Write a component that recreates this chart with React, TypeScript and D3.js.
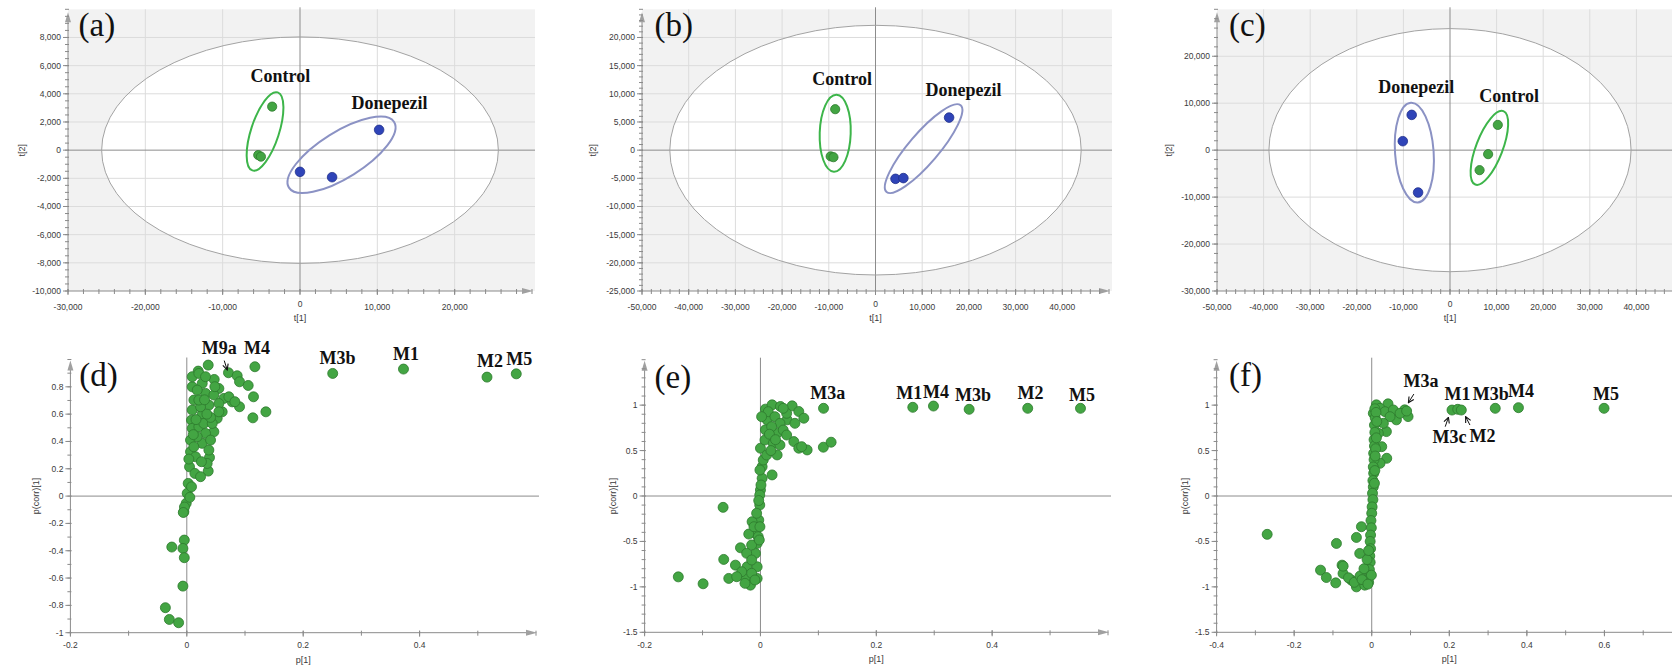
import React from 'react';
import * as d3 from 'd3';

type Pt = [number, number];

// ---------------- (a)(b)(c) score plots : t[1], t[2] ----------------
const groupNames = ['Control', 'Donepezil'];

const aControlScores: Pt[] = [[-3600, 3090], [-5400, -350], [-5050, -460]];
const aDonepezilScores: Pt[] = [[0, -1540], [4150, -1920], [10230, 1440]];
const bControlScores: Pt[] = [[-8630, 7270], [-9600, -1100], [-9000, -1250]];
const bDonepezilScores: Pt[] = [[4280, -5090], [5970, -4960], [15760, 5780]];
const cControlScores: Pt[] = [[10260, 5380], [8180, -850], [6350, -4260]];
const cDonepezilScores: Pt[] = [[-8220, 7510], [-10130, 1910], [-6850, -9020]];

// Hotelling T2 (95%) ellipse semi-axes in t[1], t[2] units
const aT2: Pt = [25650, 8040];
const bT2: Pt = [44050, 22160];
const cT2: Pt = [38860, 25890];

// centres of the group outlines (t[1], t[2]) : Control, Donepezil
const aGroupCentres: Pt[] = [[-4520, 1330], [5370, -330]];
const bGroupCentres: Pt[] = [[-8630, 3010], [10300, 270]];
const cGroupCentres: Pt[] = [[8450, 490], [-7650, -510]];

// group label anchors (t[1], t[2]) : Control, Donepezil
const aGroupLabelAt: Pt[] = [[-2535, 4860], [11585, 2900]];
const bGroupLabelAt: Pt[] = [[-7150, 11560], [18860, 9660]];
const cGroupLabelAt: Pt[] = [[12680, 10320], [-7230, 12170]];

const aXTicks = [-30000, -20000, -10000, 0, 10000, 20000];
const aYTicks = [-10000, -8000, -6000, -4000, -2000, 0, 2000, 4000, 6000, 8000];
const bXTicks = [-50000, -40000, -30000, -20000, -10000, 0, 10000, 20000, 30000, 40000];
const bYTicks = [-25000, -20000, -15000, -10000, -5000, 0, 5000, 10000, 15000, 20000];
const cXTicks = [-50000, -40000, -30000, -20000, -10000, 0, 10000, 20000, 30000, 40000];
const cYTicks = [-30000, -20000, -10000, 0, 10000, 20000];

// ---------------- (d)(e)(f) S-plots : p[1], p(corr)[1] ----------------
const dLoadings: Pt[] = [
  [0.0368, 0.959], [0.0196, 0.915], [0.0716, 0.903], [0.0866, 0.881], [0.0906, 0.837], [0.1055, 0.81],
  [0.117, 0.947], [0.1146, 0.727], [0.1359, 0.617], [0.1135, 0.573], [0.0471, 0.854], [0.0551, 0.788],
  [0.0637, 0.715], [0.078, 0.69], [0.0906, 0.654], [0.0608, 0.617], [0.0522, 0.569], [0.0465, 0.471],
  [0.039, 0.283], [0.0368, 0.183], [0.0093, 0.8], [0.0122, 0.703], [0.0093, 0.63], [0.0081, 0.556],
  [0.0093, 0.496], [0.0064, 0.41], [0.0064, 0.324], [0.0047, 0.214], [0.0024, 0.093], [0.0007, 0.02],
  [-0.001, -0.053], [-0.005, -0.115], [0.0265, 0.825], [0.0322, 0.752], [0.0379, 0.666], [0.0265, 0.6],
  [0.0207, 0.508], [0.0322, 0.459], [0.0265, 0.386], [0.015, 0.288], [0.0236, 0.654], [0.0293, 0.532],
  [0.0437, 0.532], [0.0408, 0.41], [0.0179, 0.776], [0.0207, 0.703], [0.0121, 0.361], [0.0139, 0.166],
  [0.0379, 0.337], [0.0093, 0.874], [0.0465, 0.74], [0.0551, 0.678], [0.0408, 0.576], [0.035, 0.239],
  [0.0081, 0.068], [0.0052, -0.009], [0.0207, 0.898], [0.0322, 0.874], [0.0482, 0.801], [0.0551, 0.617],
  [0.0723, 0.727], [0.0826, 0.691], [0.0236, 0.142], [0.0035, 0.271], [0.0179, 0.435], [0.0305, 0.705],
  [0.0158, 0.56], [0.0345, 0.6], [0.0112, 0.45], [0.0251, 0.252], [-0.0258, -0.373], [-0.0043, -0.322],
  [-0.0067, -0.383], [-0.0043, -0.451], [-0.0067, -0.659], [-0.0368, -0.817], [-0.03, -0.903],
  [-0.0141, -0.927], [-0.004, -0.08], [-0.006, -0.12],
  [0.2507, 0.898], [0.3723, 0.93], [0.5158, 0.871], [0.5661, 0.895],
];
const dNames = ['M9a', 'M4', 'M3b', 'M1', 'M2', 'M5'];
const dNameAt: Pt[] = [[0.0557, 1.037], [0.1206, 1.037], [0.2588, 0.964], [0.3766, 1.0], [0.5208, 0.944], [0.5711, 0.957]];
const dPointers: [Pt, Pt][] = [[[0.0643, 0.992], [0.0694, 0.924]]];

const eLoadings: Pt[] = [
  [0.0086, 0.956], [0.0201, 1.003], [0.0345, 0.985], [0.0547, 0.992], [0.0662, 0.93], [0.0749, 0.856],
  [0.046, 0.838], [0.0115, 0.838], [0.0086, 0.728], [0.0288, 0.691], [0.0576, 0.599], [0.0662, 0.526],
  [0.0806, 0.507], [0.0, 0.526], [0.0288, 0.452], [0.0029, 0.323], [0.0201, 0.232], [0.0029, 0.195],
  [0.0, 0.066], [-0.0012, 0.011], [-0.0012, -0.099], [0.0135, 0.928], [0.025, 0.873], [0.0337, 0.8],
  [0.0193, 0.763], [0.0393, 0.726], [0.0078, 0.616], [0.0221, 0.58], [0.0337, 0.561], [0.0452, 0.671],
  [0.0048, 0.396], [0.0107, 0.451], [0.0452, 0.91], [0.0595, 0.8], [0.0393, 0.965], [0.002, 0.873],
  [0.0711, 0.543], [-0.0009, 0.286], [0.0009, 0.121], [0.0155, 0.68], [0.026, 0.62], [0.018, 0.5],
  [0.1089, 0.965], [0.1086, 0.537], [0.122, 0.592],
  [-0.0645, -0.125], [-0.0029, -0.265], [-0.0144, -0.283], [-0.0086, -0.411], [-0.0202, -0.419],
  [-0.0057, -0.522], [-0.0345, -0.57], [-0.0634, -0.698], [-0.0086, -0.632], [-0.0432, -0.761],
  [-0.023, -0.779], [-0.0057, -0.779], [-0.0547, -0.907], [-0.0259, -0.907], [-0.0173, -0.981],
  [-0.0057, -0.907], [-0.099, -0.966], [-0.1418, -0.89], [-0.0066, -0.19], [-0.0112, -0.338],
  [-0.0038, -0.448], [-0.0152, -0.539], [-0.0238, -0.631], [-0.0152, -0.704], [-0.0324, -0.833],
  [-0.0152, -0.851], [-0.041, -0.888], [-0.0095, -0.924], [-0.0267, -0.961], [-0.0009, -0.338],
  [-0.002, -0.484], [-0.003, -0.05],
  [0.263, 0.976], [0.2987, 0.99], [0.3603, 0.954], [0.4614, 0.965], [0.5525, 0.965],
];
const eNames = ['M3a', 'M1', 'M4', 'M3b', 'M2', 'M5'];
const eNameAt: Pt[] = [[0.1163, 1.064], [0.2568, 1.064], [0.303, 1.082], [0.367, 1.045], [0.4663, 1.064], [0.555, 1.045]];
const ePointers: [Pt, Pt][] = [];

const fLoadings: Pt[] = [
  [0.012, 1.003], [0.042, 1.014], [0.085, 0.948], [0.0937, 0.874], [0.0636, 0.838], [0.0378, 0.709],
  [0.0387, 0.415], [0.0214, 0.965], [0.0343, 0.928], [0.0557, 0.947], [0.073, 0.91], [0.0472, 0.873],
  [0.03, 0.8], [0.017, 0.69], [0.0258, 0.543], [0.0214, 0.36], [0.0041, 0.91],
  [0.008, 0.96], [0.009, 0.86], [0.007, 0.78], [0.008, 0.7], [0.006, 0.62], [0.007, 0.55], [0.005, 0.47],
  [0.006, 0.4], [0.004, 0.32], [0.005, 0.25], [0.003, 0.17], [0.004, 0.1], [0.002, 0.03], [0.003, -0.04],
  [0.001, -0.12], [0.0, -0.19], [-0.002, -0.27], [-0.001, -0.35], [-0.003, -0.43], [-0.004, -0.5],
  [-0.003, -0.58], [-0.005, -0.66], [-0.004, -0.73], [-0.006, -0.81], [-0.005, -0.88], [-0.008, -0.95],
  [0.011, 0.92], [0.013, 0.82], [0.012, 0.64], [0.01, 0.52], [0.009, 0.44], [0.008, 0.28], [0.007, 0.14],
  [-0.0266, -0.338], [-0.0395, -0.456], [-0.091, -0.522], [-0.031, -0.632], [-0.0765, -0.761],
  [-0.132, -0.816], [-0.117, -0.897], [-0.0928, -0.956], [-0.0524, -0.926], [-0.0395, -1.0],
  [-0.018, -0.981], [-0.0009, -0.871], [-0.074, -0.853], [-0.2696, -0.422], [-0.0737, -0.772],
  [-0.06, -0.9], [-0.045, -0.95], [-0.03, -0.88], [-0.02, -0.8], [-0.012, -0.7], [-0.008, -0.6],
  [-0.025, -0.92], [-0.01, -0.97],
  [0.09, 0.935], [0.207, 0.946], [0.2218, 0.954], [0.231, 0.946], [0.3185, 0.965], [0.3783, 0.972], [0.599, 0.965],
];
const fNames = ['M3a', 'M1', 'M3b', 'M4', 'M5', 'M3c', 'M2'];
const fNameAt: Pt[] = [[0.1269, 1.203], [0.221, 1.053], [0.3066, 1.053], [0.3847, 1.09], [0.604, 1.053], [0.2006, 0.579], [0.2855, 0.594]];
const fPointers: [Pt, Pt][] = [
  [[0.1086, 1.122], [0.0946, 1.027]],
  [[0.1895, 0.763], [0.1978, 0.866]],
  [[0.2532, 0.781], [0.2421, 0.873]],
];

const dXTicks = [-0.2, 0, 0.2, 0.4];
const dYTicks = [-1, -0.8, -0.6, -0.4, -0.2, 0, 0.2, 0.4, 0.6, 0.8];
const eXTicks = [-0.2, 0, 0.2, 0.4];
const eYTicks = [-1.5, -1, -0.5, 0, 0.5, 1];
const fXTicks = [-0.4, -0.2, 0, 0.2, 0.4, 0.6];
const fYTicks = [-1.5, -1, -0.5, 0, 0.5, 1];

// ---------------- styles ----------------
const GREEN = '#43a543';
const GREEN_EDGE = '#2d7a2d';
const BLUE = '#2f44b8';
const BLUE_EDGE = '#22318c';
const GREEN_OUTLINE = '#3db54a';
const BLUE_OUTLINE = '#8b92c4';
const AXIS = '#8a8a8a';
const TICK_TEXT = '#3a3a3a';
const SANS = "'Liberation Sans', Arial, sans-serif";
const SERIF = "'Liberation Serif', 'Times New Roman', serif";

const fmtThousands = (v: number) => d3.format(',')(v).replace('\u2212', '-');
const fmtPlain = (v: number) => String(v);

function minorValues(d: number[], step: number) {
  const lo = Math.ceil(d[0] / step - 1e-9);
  const hi = Math.floor(d[1] / step + 1e-9);
  return d3.range(lo, hi + 1).map((i) => +(i * step).toFixed(6));
}

type Outline = { centre: Pt; a: number; b: number; angle: number; color: string };

type PanelCfg = {
  letter: string;
  letterAt: Pt;
  xDomain: Pt; xRange: Pt; yDomain: Pt; yRange: Pt;
  xTicks: number[]; yTicks: number[]; xMinor: number; yMinor: number;
  fmt: (v: number) => string;
  xTitle: string; yTitle: string; yTitleDx: number;
  xLabelDy: number;
  score?: {
    t2: Pt; control: Pt[]; donepezil: Pt[]; outlines: Outline[]; labelAt: Pt[];
  };
  loading?: { pts: Pt[]; names: string[]; nameAt: Pt[]; pointers: [Pt, Pt][] };
};

function Panel({ cfg, idx }: { cfg: PanelCfg; idx: number }) {
  const x = d3.scaleLinear().domain(cfg.xDomain).range(cfg.xRange);
  const y = d3.scaleLinear().domain(cfg.yDomain).range(cfg.yRange);
  const [x0, x1] = cfg.xRange;
  const [yb, yt] = cfg.yRange;
  const isScore = !!cfg.score;
  const xMinorVals = minorValues(cfg.xDomain, cfg.xMinor);
  const yMinorVals = minorValues(cfg.yDomain, cfg.yMinor);
  const arrowTop = isScore ? yt + 3 : yt + 1;
  const markerId = `arr${idx}`;

  return (
    <g>
      <defs>
        <marker id={markerId} viewBox="0 0 10 10" refX="9" refY="5" markerWidth="7" markerHeight="7" orient="auto">
          <path d="M1,1 L9,5 L1,9" fill="none" stroke="#111" strokeWidth="1.6" />
        </marker>
      </defs>
      {isScore && (
        <>
          <rect x={x0} y={yt} width={x1 - x0 + 3} height={yb - yt} fill="#f2f2f2" />
          <ellipse cx={x(0)} cy={y(0)} rx={x(cfg.score!.t2[0]) - x(0)} ry={y(0) - y(cfg.score!.t2[1])} fill="#ffffff" />
          {cfg.xTicks.filter((v) => v !== cfg.xDomain[0] && v !== 0).map((v) => (
            <line key={'gx' + v} x1={x(v)} x2={x(v)} y1={yt} y2={yb} stroke="#dcdcdc" strokeWidth={1} />
          ))}
          {cfg.yTicks.filter((v) => v !== cfg.yDomain[0] && v !== 0).map((v) => (
            <line key={'gy' + v} x1={x0} x2={x1 + 3} y1={y(v)} y2={y(v)} stroke="#dcdcdc" strokeWidth={1} />
          ))}
        </>
      )}
      {/* zero lines */}
      <line x1={x0} x2={x1 + 3} y1={y(0)} y2={y(0)} stroke="#8c8c8c" strokeWidth={1} />
      <line x1={x(0)} x2={x(0)} y1={yt - 2} y2={yb} stroke="#8c8c8c" strokeWidth={1} />
      {isScore && (
        <ellipse cx={x(0)} cy={y(0)} rx={x(cfg.score!.t2[0]) - x(0)} ry={y(0) - y(cfg.score!.t2[1])} fill="none" stroke="#a3a3a3" strokeWidth={1} />
      )}
      {/* axes */}
      <line x1={x0} x2={x1 - 6} y1={yb} y2={yb} stroke={AXIS} strokeWidth={1} />
      <path d={`M${x1 - 10},${yb - 3} L${x1 + 1},${yb} L${x1 - 10},${yb + 3} Z`} fill="#a0a0a0" />
      <line x1={x0} x2={x0} y1={yb} y2={arrowTop + 6} stroke={AXIS} strokeWidth={1} />
      <path d={`M${x0 - 3},${arrowTop + 10} L${x0},${arrowTop} L${x0 + 3},${arrowTop + 10} Z`} fill="#a0a0a0" />
      {xMinorVals.map((v) => (
        <line key={'xm' + v} x1={x(v)} x2={x(v)} y1={yb - 2} y2={yb + 3} stroke={AXIS} strokeWidth={1} />
      ))}
      {yMinorVals.map((v) => (
        <line key={'ym' + v} x1={x0 - 3} x2={x0 + 1} y1={y(v)} y2={y(v)} stroke={AXIS} strokeWidth={1} />
      ))}
      {cfg.xTicks.map((v) => (
        <g key={'xt' + v}>
          <line x1={x(v)} x2={x(v)} y1={yb - 2} y2={yb + 4} stroke={AXIS} strokeWidth={1} />
          <text x={x(v)} y={yb + cfg.xLabelDy - (isScore && v === 0 ? 3 : 0)} textAnchor="middle" fontSize={8.5} fontFamily={SANS} fill={TICK_TEXT}>
            {cfg.fmt(v)}
          </text>
        </g>
      ))}
      {cfg.yTicks.map((v) => (
        <g key={'yt' + v}>
          <line x1={x0 - 5} x2={x0 + 1} y1={y(v)} y2={y(v)} stroke={AXIS} strokeWidth={1} />
          <text x={x0 - 7} y={y(v) + 3} textAnchor="end" fontSize={8.5} fontFamily={SANS} fill={TICK_TEXT}>
            {cfg.fmt(v)}
          </text>
        </g>
      ))}
      <text x={(x0 + x1) / 2} y={yb + 30} textAnchor="middle" fontSize={9} fontFamily={SANS} fill={TICK_TEXT}>
        {cfg.xTitle}
      </text>
      <text transform={`translate(${x0 + cfg.yTitleDx},${y(0)}) rotate(-90)`} textAnchor="middle" fontSize={9} fontFamily={SANS} fill={TICK_TEXT}>
        {cfg.yTitle}
      </text>

      {isScore && (
        <>
          {cfg.score!.outlines.map((o, i) => (
            <ellipse key={'o' + i} transform={`translate(${x(o.centre[0])},${y(o.centre[1])}) rotate(${-o.angle})`}
              rx={o.a} ry={o.b} fill="none" stroke={o.color} strokeWidth={2} />
          ))}
          {cfg.score!.control.map((p, i) => (
            <circle key={'c' + i} cx={x(p[0])} cy={y(p[1])} r={4.6} fill={GREEN} stroke={GREEN_EDGE} strokeWidth={0.8} />
          ))}
          {cfg.score!.donepezil.map((p, i) => (
            <circle key={'dn' + i} cx={x(p[0])} cy={y(p[1])} r={4.8} fill={BLUE} stroke={BLUE_EDGE} strokeWidth={0.8} />
          ))}
          {groupNames.map((n, i) => (
            <text key={n} x={x(cfg.score!.labelAt[i][0])} y={y(cfg.score!.labelAt[i][1])} textAnchor="middle"
              fontSize={18} fontWeight="bold" fontFamily={SERIF} fill="#111">
              {n}
            </text>
          ))}
        </>
      )}
      {cfg.loading && (
        <>
          {cfg.loading.pts.map((p, i) => (
            <circle key={'l' + i} cx={x(p[0])} cy={y(p[1])} r={5} fill={GREEN} stroke={GREEN_EDGE} strokeWidth={0.8} />
          ))}
          {cfg.loading.names.map((n, i) => (
            <text key={'n' + i} x={x(cfg.loading!.nameAt[i][0])} y={y(cfg.loading!.nameAt[i][1])} textAnchor="middle"
              fontSize={18} fontWeight="bold" fontFamily={SERIF} fill="#111">
              {n}
            </text>
          ))}
          {cfg.loading.pointers.map((pp, i) => (
            <line key={'p' + i} x1={x(pp[0][0])} y1={y(pp[0][1])} x2={x(pp[1][0])} y2={y(pp[1][1])}
              stroke="#111" strokeWidth={1} markerEnd={`url(#${markerId})`} />
          ))}
        </>
      )}
      <text x={cfg.letterAt[0]} y={cfg.letterAt[1]} fontSize={33} fontFamily={SERIF} fill="#111">
        {cfg.letter}
      </text>
    </g>
  );
}

const outline = (centre: Pt, a: number, b: number, angle: number, color: string): Outline => ({ centre, a, b, angle, color });

const panels: PanelCfg[] = [
  {
    letter: '(a)', letterAt: [78.6, 35.5],
    xDomain: [-30000, 30000], xRange: [68, 532], yDomain: [-10000, 10000], yRange: [291, 9.3],
    xTicks: aXTicks, yTicks: aYTicks, xMinor: 2000, yMinor: 500, fmt: fmtThousands,
    xTitle: 't[1]', yTitle: 't[2]', yTitleDx: -43, xLabelDy: 18.5,
    score: {
      t2: aT2, control: aControlScores, donepezil: aDonepezilScores, labelAt: aGroupLabelAt,
      outlines: [outline(aGroupCentres[0], 41, 14, 72, GREEN_OUTLINE), outline(aGroupCentres[1], 62, 23, 32, BLUE_OUTLINE)],
    },
  },
  {
    letter: '(b)', letterAt: [654.6, 35.5],
    xDomain: [-50000, 50000], xRange: [642, 1109], yDomain: [-25000, 25000], yRange: [291, 9.3],
    xTicks: bXTicks, yTicks: bYTicks, xMinor: 2000, yMinor: 1000, fmt: fmtThousands,
    xTitle: 't[1]', yTitle: 't[2]', yTitleDx: -46, xLabelDy: 18.5,
    score: {
      t2: bT2, control: bControlScores, donepezil: bDonepezilScores, labelAt: bGroupLabelAt,
      outlines: [outline(bGroupCentres[0], 38.5, 15.5, 88, GREEN_OUTLINE), outline(bGroupCentres[1], 57, 15, 49.5, BLUE_OUTLINE)],
    },
  },
  {
    letter: '(c)', letterAt: [1229, 35.5],
    xDomain: [-50000, 50000], xRange: [1217, 1683], yDomain: [-30000, 30000], yRange: [291, 9.3],
    xTicks: cXTicks, yTicks: cYTicks, xMinor: 2000, yMinor: 2000, fmt: fmtThousands,
    xTitle: 't[1]', yTitle: 't[2]', yTitleDx: -45, xLabelDy: 18.5,
    score: {
      t2: cT2, control: cControlScores, donepezil: cDonepezilScores, labelAt: cGroupLabelAt,
      outlines: [outline(cGroupCentres[0], 39.3, 13.3, 69, GREEN_OUTLINE), outline(cGroupCentres[1], 50, 19.3, 94, BLUE_OUTLINE)],
    },
  },
  {
    letter: '(d)', letterAt: [79.3, 385.5],
    xDomain: [-0.2, 0.6], xRange: [70.4, 536], yDomain: [-1, 1], yRange: [632.7, 359.5],
    xTicks: dXTicks, yTicks: dYTicks, xMinor: 0.1, yMinor: 0.1, fmt: fmtPlain,
    xTitle: 'p[1]', yTitle: 'p(corr)[1]', yTitleDx: -31, xLabelDy: 15.5,
    loading: { pts: dLoadings, names: dNames, nameAt: dNameAt, pointers: dPointers },
  },
  {
    letter: '(e)', letterAt: [654.6, 388],
    xDomain: [-0.2, 0.6], xRange: [644.6, 1108], yDomain: [-1.5, 1.5], yRange: [632.3, 359.7],
    xTicks: eXTicks, yTicks: eYTicks, xMinor: 0.1, yMinor: 0.1, fmt: fmtPlain,
    xTitle: 'p[1]', yTitle: 'p(corr)[1]', yTitleDx: -29, xLabelDy: 15.5,
    loading: { pts: eLoadings, names: eNames, nameAt: eNameAt, pointers: ePointers },
  },
  {
    letter: '(f)', letterAt: [1229, 386],
    xDomain: [-0.4, 0.8], xRange: [1216.6, 1682], yDomain: [-1.5, 1.5], yRange: [632.3, 359.7],
    xTicks: fXTicks, yTicks: fYTicks, xMinor: 0.1, yMinor: 0.1, fmt: fmtPlain,
    xTitle: 'p[1]', yTitle: 'p(corr)[1]', yTitleDx: -29, xLabelDy: 15.5,
    loading: { pts: fLoadings, names: fNames, nameAt: fNameAt, pointers: fPointers },
  },
];

export default function App() {
  return (
    <svg width={1672} height={667} viewBox="0 0 1672 667"
      style={{ position: 'absolute', left: 0, top: 0, background: '#ffffff', display: 'block' }}>
      <rect x={0} y={0} width={1672} height={667} fill="#ffffff" />
      {panels.map((p, i) => (
        <Panel key={p.letter} cfg={p} idx={i} />
      ))}
    </svg>
  );
}
